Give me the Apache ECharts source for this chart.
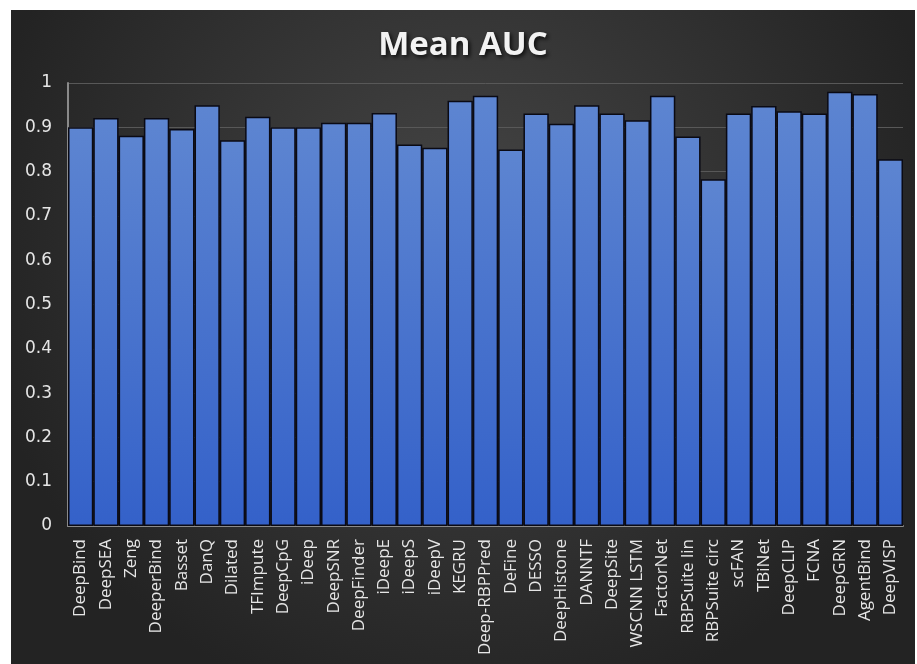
<!DOCTYPE html>
<html>
<head>
<meta charset="utf-8">
<script src="https://cdn.jsdelivr.net/npm/echarts@6/dist/echarts.min.js"></script>
<style>
  html, body { margin: 0; padding: 0; background: #ffffff; }
  #chart { position: absolute; left: 11px; top: 10px; width: 904px; height: 654px; }
</style>
</head>
<body>
<div id="chart"></div>
<script>
// Deep learning models compared by mean AUC
const models = [
  'DeepBind', 'DeepSEA', 'Zeng', 'DeeperBind', 'Basset', 'DanQ', 'Dilated',
  'TFImpute', 'DeepCpG', 'iDeep', 'DeepSNR', 'DeepFinder', 'iDeepE', 'iDeepS',
  'iDeepV', 'KEGRU', 'Deep-RBPPred', 'DeFine', 'DESSO', 'DeepHistone', 'DANNTF',
  'DeepSite', 'WSCNN LSTM', 'FactorNet', 'RBPSuite lin', 'RBPSuite circ', 'scFAN',
  'TBiNet', 'DeepCLIP', 'FCNA', 'DeepGRN', 'AgentBind', 'DeepVISP'
];
const meanAUC = [
  0.900, 0.921, 0.881, 0.921, 0.896, 0.950, 0.871,
  0.924, 0.900, 0.900, 0.910, 0.910, 0.932, 0.861,
  0.854, 0.960, 0.971, 0.850, 0.931, 0.908, 0.950,
  0.931, 0.916, 0.971, 0.879, 0.783, 0.931,
  0.948, 0.936, 0.931, 0.980, 0.975, 0.828
];
const yTicks = [0, 0.1, 0.2, 0.3, 0.4, 0.5, 0.6, 0.7, 0.8, 0.9, 1];

const chart = echarts.init(document.getElementById('chart'), null, { renderer: 'canvas' });
const labelFont = '"Open Sans", "Noto Sans", sans-serif';

chart.setOption({
  backgroundColor: new echarts.graphic.RadialGradient(0.5, 0.35, 0.75, [
    { offset: 0, color: '#464646' },
    { offset: 1, color: '#232323' }
  ]),
  animation: false,
  title: {
    text: 'Mean AUC',
    left: 'center',
    top: 14,
    textStyle: {
      color: '#f2f2f2',
      fontFamily: labelFont,
      fontWeight: 700,
      fontSize: 33,
      textShadowColor: 'rgba(0,0,0,0.8)',
      textShadowBlur: 4,
      textShadowOffsetX: 2,
      textShadowOffsetY: 2
    }
  },
  grid: { left: 57, top: 73, width: 835, height: 443, containLabel: false },
  xAxis: {
    type: 'category',
    data: models,
    axisLine: { show: true, lineStyle: { color: '#8a8a8a', width: 2 } },
    axisTick: { show: false },
    axisLabel: {
      interval: 0,
      rotate: 90,
      margin: 13,
      color: '#e6e6e6',
      fontFamily: labelFont,
      fontSize: 17
    }
  },
  yAxis: {
    type: 'value',
    min: yTicks[0],
    max: yTicks[yTicks.length - 1],
    interval: 0.1,
    axisLine: { show: true, lineStyle: { color: '#8a8a8a', width: 2 } },
    axisTick: { show: false },
    splitLine: { show: true, lineStyle: { color: '#585858', width: 1 } },
    axisLabel: {
      margin: 16,
      color: '#e6e6e6',
      fontFamily: '"DejaVu Sans", sans-serif',
      fontSize: 17,
      formatter: v => String(Math.round(v * 10) / 10)
    }
  },
  series: [{
    type: 'bar',
    data: meanAUC,
    barCategoryGap: '0%',
    itemStyle: {
      color: new echarts.graphic.LinearGradient(0, 0, 0, 1, [
        { offset: 0, color: '#5d85d1' },
        { offset: 1, color: '#3461c9' }
      ]),
      borderColor: '#0a0a14',
      borderWidth: 1.5
    }
  }]
});
</script>
</body>
</html>
